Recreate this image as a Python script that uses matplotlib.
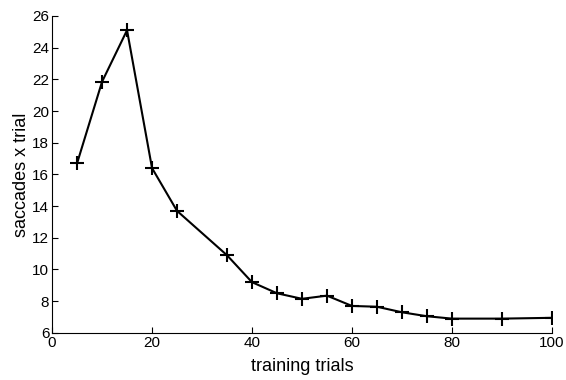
import matplotlib
matplotlib.use("Agg")
import matplotlib.pyplot as plt

trials = [5, 10, 15, 20, 25, 35, 40, 45, 50, 55, 60, 65, 70, 75, 80, 90, 100]
saccades = [16.7, 21.85, 25.1, 16.4, 13.7, 10.9, 9.2, 8.5, 8.15, 8.35, 7.7, 7.65, 7.3, 7.05, 6.9, 6.9, 6.95]
xticks = [0, 20, 40, 60, 80, 100]
yticks = [6, 8, 10, 12, 14, 16, 18, 20, 22, 24, 26]

plt.rcParams['font.family'] = ['Liberation Sans', 'DejaVu Sans']
fig = plt.figure(figsize=(5.66, 3.8), dpi=100)
ax = fig.add_axes([0.092, 0.124, 0.883, 0.834])
ax.plot(trials, saccades, color='black', linewidth=1.5, marker='+', markersize=10, markeredgewidth=1.5)
ax.set_xlim(0, 100)
ax.set_ylim(6, 26)
ax.set_xticks(xticks)
ax.set_yticks(yticks)
ax.spines['top'].set_visible(False)
ax.spines['right'].set_visible(False)
ax.tick_params(direction='in', length=4, labelsize=11, pad=2)
ax.set_xlabel('training trials', fontsize=13, labelpad=6)
ax.set_ylabel('saccades x trial', fontsize=13, labelpad=2)
fig.savefig('out.png', dpi=100)
